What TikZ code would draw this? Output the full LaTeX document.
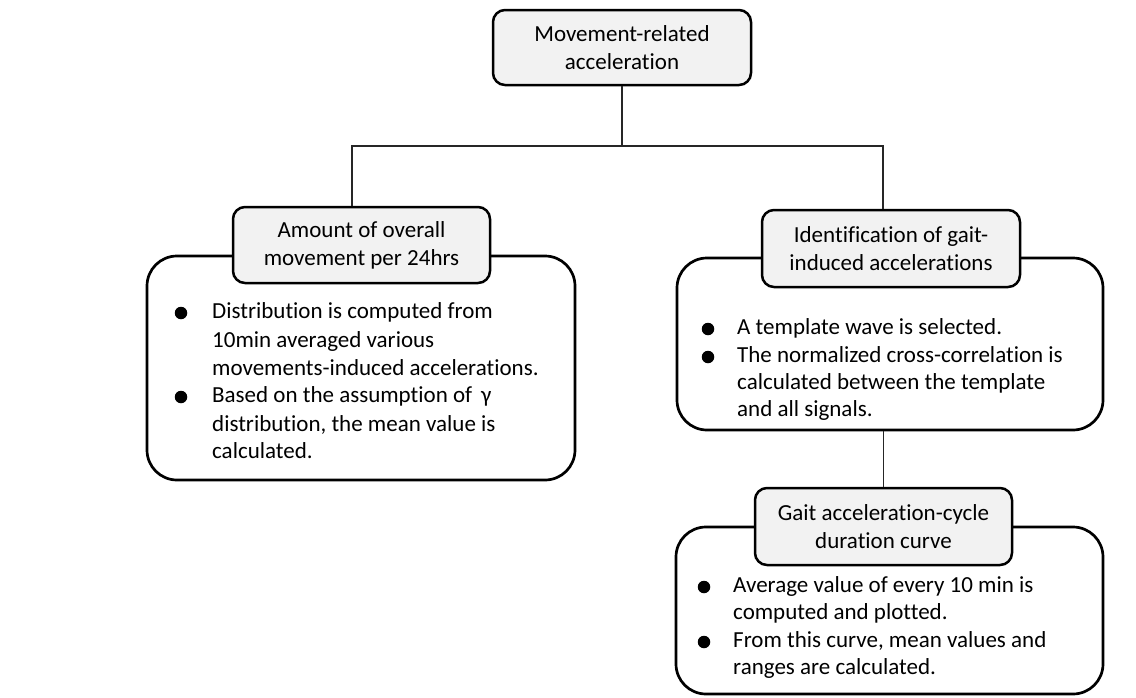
\documentclass[tikz,border=0pt]{standalone}
\usepackage{fontspec}
\setmainfont{Carlito}[Ligatures=NoCommon]
\definecolor{hdrgray}{HTML}{F2F2F2}
\begin{document}
\begin{tikzpicture}[x=1pt,y=-1pt,
  hdr/.style={draw=black, line width=2.5pt, fill=hdrgray, rounded corners=12pt, inner sep=0pt, align=center, font=\fontsize{23}{28}\selectfont},
  body/.style={draw=black, line width=2.7pt, fill=white, rounded corners=30pt, inner sep=0pt},
  conn/.style={line width=1.4pt, draw=black!85},
  bul/.style={circle, fill=black, inner sep=0pt, minimum size=12.5pt},
  txt/.style={anchor=base west, inner sep=0pt, font=\fontsize{23}{28}\selectfont}]
\useasboundingbox (0,0) rectangle (1136,697);
% boxes
\node[hdr, minimum width=258pt, minimum height=75pt] (top) at (622,47.5) {Movement-related\\acceleration};
\node[body, minimum width=428pt, minimum height=224pt] (lb) at (361,368) {};
\node[hdr, minimum width=257pt, minimum height=76pt] (amt) at (361.5,245) {Amount of overall\\movement per 24hrs};
\node[body, minimum width=426pt, minimum height=172pt] (rb) at (890,344) {};
\node[hdr, minimum width=258pt, minimum height=77pt] (ide) at (891,248.5) {Identification of gait-\\induced accelerations};
\node[body, minimum width=427pt, minimum height=167pt] (gb) at (889.5,610.5) {};
\node[hdr, minimum width=257pt, minimum height=77pt] (gait) at (883.5,526.5) {Gait acceleration-cycle\\duration curve};
% connectors
\coordinate (jl) at (352,146);
\coordinate (jr) at (883,146);
\draw[conn] (top.south) -- (top.south |- jl);
\draw[conn] (jl |- amt.north) -- (jl) -- (jr) -- (jr |- ide.north);
\draw[conn] (rb.south -| gait.north) -- (gait.north);
% left body text
\node[bul] (lb1) at (181,313) {};
\node[bul] (lb2) at (181,397) {};
\node[txt] (l1) at (212,318.5) {Distribution is computed from};
\node[txt] (l2) at (212,347) {10min averaged various};
\node[txt] (l3) at (212,375) {movements-induced accelerations.};
\node[txt] (l4) at (212,402.5) {Based on the assumption of \,γ};
\node[txt] (l5) at (212,431) {distribution, the mean value is};
\node[txt] (l6) at (212,458.5) {calculated.};
% right body text
\node[bul] (rb1) at (708,329) {};
\node[bul] (rb2) at (708,357) {};
\node[txt] (r1) at (737,334.5) {A template wave is selected.};
\node[txt] (r2) at (737,362) {The normalized cross-correlation is};
\node[txt] (r3) at (737,389.5) {calculated between the template};
\node[txt] (r4) at (737,416) {and all signals.};
% gait body text
\node[bul] (gb1) at (704,587) {};
\node[bul] (gb2) at (704,642) {};
\node[txt] (g1) at (733,592.5) {Average value of every 10 min is};
\node[txt] (g2) at (733,619.5) {computed and plotted.};
\node[txt] (g3) at (733,647) {From this curve, mean values and};
\node[txt] (g4) at (733,674.5) {ranges are calculated.};
\end{tikzpicture}
\end{document}
